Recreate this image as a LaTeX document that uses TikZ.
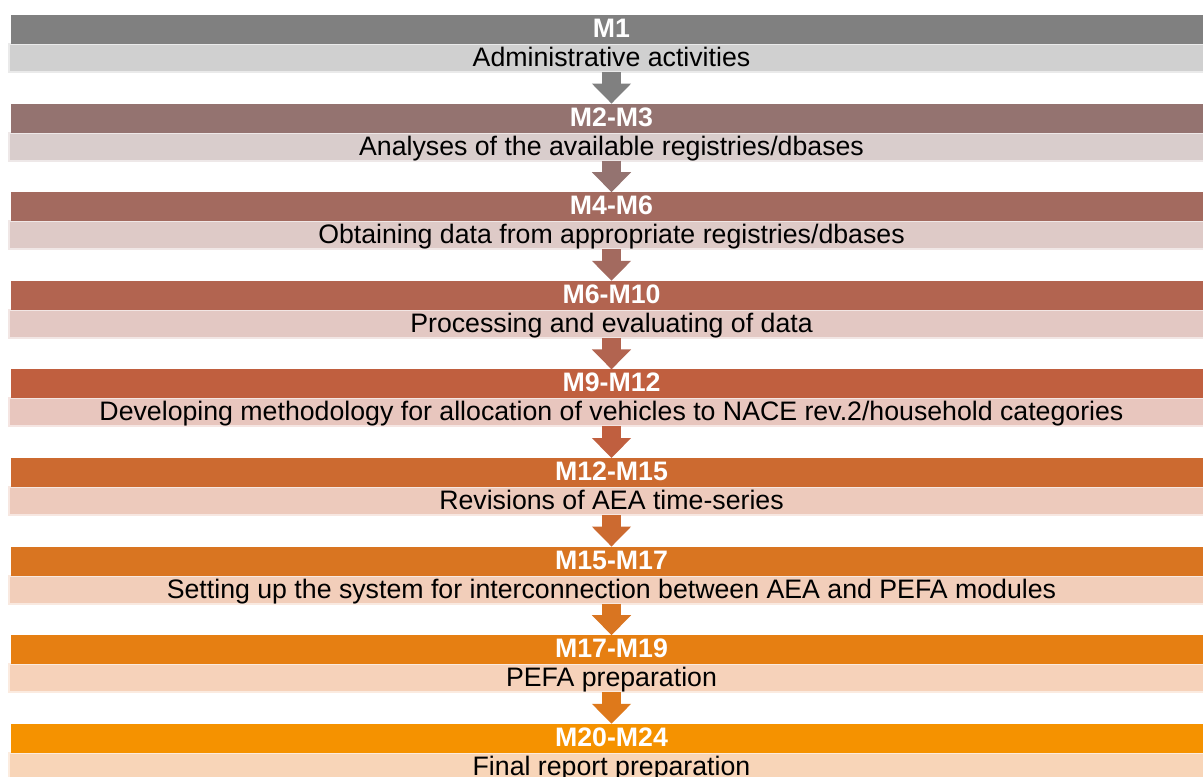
\documentclass[tikz,border=0pt]{standalone}
\usepackage{fontspec}
\setmainfont{Liberation Sans}
\usetikzlibrary{arrows.meta,positioning}

% header colours, grey to orange
\definecolor{hdrA}{RGB}{128,128,128}
\definecolor{hdrB}{RGB}{148,115,112}
\definecolor{hdrC}{RGB}{163,106,95}
\definecolor{hdrD}{RGB}{178,100,80}
\definecolor{hdrE}{RGB}{192,95,63}
\definecolor{hdrF}{RGB}{204,106,48}
\definecolor{hdrG}{RGB}{217,117,33}
\definecolor{hdrH}{RGB}{230,127,18}
\definecolor{hdrI}{RGB}{245,146,0}
% light task bars
\definecolor{barA}{RGB}{208,208,208}
\definecolor{barB}{RGB}{217,205,204}
\definecolor{barC}{RGB}{222,202,199}
\definecolor{barD}{RGB}{227,200,195}
\definecolor{barE}{RGB}{232,198,190}
\definecolor{barF}{RGB}{237,202,188}
\definecolor{barG}{RGB}{242,206,186}
\definecolor{barH}{RGB}{246,210,186}
\definecolor{barI}{RGB}{248,213,184}

\begin{document}
\begin{tikzpicture}[
  font=\fontsize{15.2}{17}\selectfont,
  stage/.style={fill=#1,minimum width=24.02cm,minimum height=0.58cm,inner sep=0pt,outer sep=0pt,
    text=white,font=\fontsize{15.2}{17}\selectfont\bfseries,text height=0.9em,text depth=0pt},
  task/.style={fill=#1,draw=#1!45!white,line width=0.04cm,minimum width=24.1cm,minimum height=0.56cm,
    inner sep=0pt,outer sep=0pt,text height=0.96em,text depth=0pt},
  flow/.style={draw=#1,line width=0.38cm,-{Triangle[width=0.76cm,length=0.4cm]}}
]
\clip (0,0) rectangle (24.06,-15.52);

% task bars, each with its month header on top
\node[task=barA] (t1) at (12.23,-1.16) {Administrative activities};
\node[stage=hdrA,above=0pt of t1] (h1) {M1};

\node[task=barB] (t2) at (12.23,-2.932) {Analyses of the available registries/dbases};
\node[stage=hdrB,above=0pt of t2] (h2) {M2-M3};

\node[task=barC] (t3) at (12.23,-4.704) {Obtaining data from appropriate registries/dbases};
\node[stage=hdrC,above=0pt of t3] (h3) {M4-M6};

\node[task=barD] (t4) at (12.23,-6.476) {Processing and evaluating of data};
\node[stage=hdrD,above=0pt of t4] (h4) {M6-M10};

\node[task=barE] (t5) at (12.23,-8.248) {Developing methodology for allocation of vehicles to NACE rev.2/household categories};
\node[stage=hdrE,above=0pt of t5] (h5) {M9-M12};

\node[task=barF] (t6) at (12.23,-10.02) {Revisions of AEA time-series};
\node[stage=hdrF,above=0pt of t6] (h6) {M12-M15};

\node[task=barG] (t7) at (12.23,-11.792) {Setting up the system for interconnection between AEA and PEFA modules};
\node[stage=hdrG,above=0pt of t7] (h7) {M15-M17};

\node[task=barH] (t8) at (12.23,-13.564) {PEFA preparation};
\node[stage=hdrH,above=0pt of t8] (h8) {M17-M19};

\node[task=barI] (t9) at (12.23,-15.336) {Final report preparation};
\node[stage=hdrI,above=0pt of t9] (h9) {M20-M24};

% block arrows between the stages
\draw[flow=hdrA] (t1.south) -- (h2.north);
\draw[flow=hdrB] (t2.south) -- (h3.north);
\draw[flow=hdrC] (t3.south) -- (h4.north);
\draw[flow=hdrD] (t4.south) -- (h5.north);
\draw[flow=hdrE] (t5.south) -- (h6.north);
\draw[flow=hdrF] (t6.south) -- (h7.north);
\draw[flow=hdrG] (t7.south) -- (h8.north);
\draw[flow=hdrG!60!hdrH] (t8.south) -- (h9.north);
\end{tikzpicture}
\end{document}
